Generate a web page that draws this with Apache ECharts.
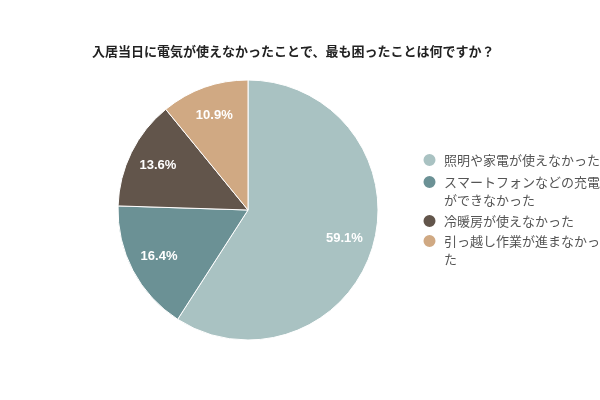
<!DOCTYPE html>
<html>
<head>
<meta charset="utf-8">
<script src="https://cdn.jsdelivr.net/npm/echarts@6/dist/echarts.min.js"></script>
<style>
  html, body { margin: 0; padding: 0; background: #fff; }
  #c { width: 600px; height: 400px; }
</style>
</head>
<body>
<div id="c"></div>
<script>
  const TITLE = "入居当日に電気が使えなかったことで、最も困ったことは何ですか？";
  const NAMES = ["照明や家電が使えなかった", "スマートフォンなどの充電ができなかった", "冷暖房が使えなかった", "引っ越し作業が進まなかった"];
  const VALUES = [59.1, 16.4, 13.6, 10.9];
  const COLORS = ["#a9c2c2", "#6b9195", "#62554b", "#d0a983"];

  const JP = '"Noto Sans CJK JP", sans-serif';
  const LH = 18;
  // legend rows: icon centre y and how many text lines the name wraps to
  const ROWS = [[160, 1], [182, 2], [221, 1], [241, 2]];

  const chart = echarts.init(document.getElementById("c"), null, { renderer: "canvas" });
  const pieData = NAMES.map((n, i) => ({ name: n, value: VALUES[i], itemStyle: { color: COLORS[i] } }));

  chart.setOption({
    animation: false,
    title: {
      text: TITLE, left: 92, top: 45, padding: 0,
      textStyle: { fontFamily: JP, fontSize: 13, fontWeight: "bold", color: "#222" },
    },
    // one legend per row so the icon sits on the first line of a wrapped name
    legend: ROWS.map(([y, n], i) => ({
      data: [NAMES[i]], orient: "vertical", left: 421.5, top: y - (2 * n - 1) * LH / 2, padding: 0,
      icon: "circle", itemWidth: 14, itemHeight: 14, selectedMode: false,
      textStyle: {
        fontFamily: JP, fontSize: 13, color: "#555", lineHeight: LH, width: 158, overflow: "break",
        padding: [(n - 1) * LH, 0, 0, 2.5], rich: { t: {} },
      },
    })),
    series: [
      {
        type: "pie", center: [248, 210], radius: [0, 130], startAngle: 90, clockwise: true,
        itemStyle: { borderColor: "#fff", borderWidth: 1 },
        label: { show: false }, labelLine: { show: false }, emphasis: { disabled: true },
        data: pieData,
      },
      {
        type: "pie", center: [248, 210], radius: [65, 130], startAngle: 90, clockwise: true, silent: true,
        itemStyle: { color: "rgba(0,0,0,0)" },
        label: { show: true, position: "inside", color: "#fff", fontFamily: "Liberation Sans, Arial", fontSize: 13, fontWeight: "bold", formatter: p => p.value.toFixed(1) + "%" },
        labelLine: { show: false }, emphasis: { disabled: true },
        data: NAMES.map((n, i) => ({ name: n, value: VALUES[i] })),
      },
    ],
  });
</script>
</body>
</html>
